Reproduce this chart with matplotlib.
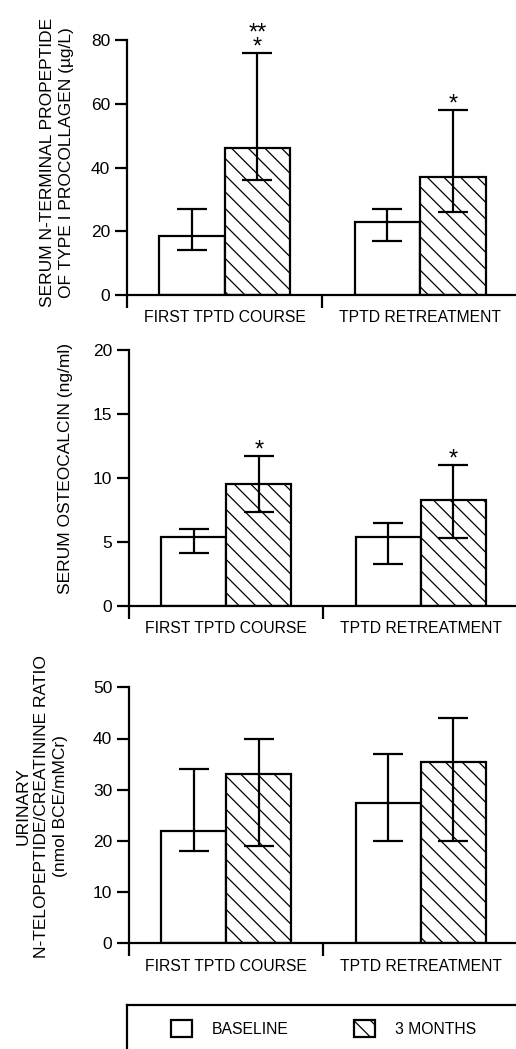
import numpy as np
import matplotlib
matplotlib.use("Agg")
import matplotlib.pyplot as plt

# ---- data ----
categories = ["FIRST TPTD COURSE", "TPTD RETREATMENT"]

# serum P1NP (ug/L)
p1np_base = [18.5, 23.0]
p1np_base_lo = [14.0, 17.0]
p1np_base_hi = [27.0, 27.0]
p1np_3m = [46.0, 37.0]
p1np_3m_lo = [36.0, 26.0]
p1np_3m_hi = [76.0, 58.0]
p1np_stars = ["**\n*", "*"]

# serum osteocalcin (ng/ml)
oc_base = [5.4, 5.4]
oc_base_lo = [4.1, 3.3]
oc_base_hi = [6.0, 6.5]
oc_3m = [9.5, 8.3]
oc_3m_lo = [7.3, 5.3]
oc_3m_hi = [11.7, 11.0]
oc_stars = ["*", "*"]

# urinary NTX/creatinine (nmol BCE/mMCr)
ntx_base = [22.0, 27.5]
ntx_base_lo = [18.0, 20.0]
ntx_base_hi = [34.0, 37.0]
ntx_3m = [33.0, 35.5]
ntx_3m_lo = [19.0, 20.0]
ntx_3m_hi = [40.0, 44.0]
ntx_stars = ["", ""]

p1np_ticks = [0, 20, 40, 60, 80]
oc_ticks = [0, 5, 10, 15, 20]
ntx_ticks = [0, 10, 20, 30, 40, 50]

series_labels = ["BASELINE", "3 MONTHS"]

plt.rcParams["font.family"] = ["Liberation Sans", "DejaVu Sans"]
plt.rcParams["hatch.linewidth"] = 0.9
plt.rcParams["hatch.color"] = "black"

W = 0.335  # bar width


def draw_panel(ax, base, base_lo, base_hi, m3, m3_lo, m3_hi, stars, ticks, ylabel, lab_xy):
    x = np.arange(len(categories))
    b1 = ax.bar(x - W / 2, base, W, facecolor="white", edgecolor="black", linewidth=1.6,
                label=series_labels[0])
    b2 = ax.bar(x + W / 2, m3, W, facecolor="white", edgecolor="black", linewidth=1.6,
                hatch="\\\\", label=series_labels[1])

    base = np.array(base)
    m3 = np.array(m3)
    ax.errorbar(x - W / 2, base, yerr=[base - np.array(base_lo), np.array(base_hi) - base],
                fmt="none", ecolor="black", elinewidth=1.6, capsize=11, capthick=1.6)
    ax.errorbar(x + W / 2, m3, yerr=[m3 - np.array(m3_lo), np.array(m3_hi) - m3],
                fmt="none", ecolor="black", elinewidth=1.6, capsize=11, capthick=1.6)

    # significance marks
    for xi, top, s in zip(x + W / 2, m3_hi, stars):
        if s:
            ax.annotate(s, xy=(xi, top), xytext=(0, -4), textcoords="offset points",
                        ha="center", va="bottom", fontsize=17, linespacing=0.5)

    ax.set_xlim(-0.5, 1.49)
    ax.set_ylim(ticks[0], ticks[-1])
    ax.set_yticks(ticks)
    ax.tick_params(axis="y", length=9, width=1.6, labelsize=12.5, pad=3)

    # group dividers as major ticks, names on minor ticks
    ax.set_xticks([-0.5, 0.5])
    ax.set_xticklabels(["", ""])
    ax.set_xticks(x, minor=True)
    ax.set_xticklabels(categories, minor=True, fontsize=11.3)
    ax.tick_params(axis="x", which="major", length=9, width=1.6, direction="out")
    ax.tick_params(axis="x", which="minor", length=0, pad=11)

    for side in ["top", "right"]:
        ax.spines[side].set_visible(False)
    for side in ["left", "bottom"]:
        ax.spines[side].set_linewidth(1.6)

    ax.set_ylabel(ylabel, fontsize=12.5, va="center", ha="center", linespacing=1.3)
    ax.yaxis.set_label_coords(*lab_xy)
    return b1, b2


def main():
    fig = plt.figure(figsize=(5.16, 10.49), dpi=100)
    H = 1049.0
    Wd = 516.0

    ax1 = fig.add_axes([127 / Wd, 1 - 295 / H, 1 - 127 / Wd, 255 / H])
    ax2 = fig.add_axes([129 / Wd, 1 - 606 / H, 1 - 129 / Wd, 256.3 / H])
    ax3 = fig.add_axes([129 / Wd, 1 - 943.3 / H, 1 - 129 / Wd, 256 / H])

    handles = draw_panel(ax1, p1np_base, p1np_base_lo, p1np_base_hi, p1np_3m, p1np_3m_lo,
                         p1np_3m_hi, p1np_stars, p1np_ticks,
                         "SERUM N-TERMINAL PROPEPTIDE\nOF TYPE I PROCOLLAGEN (\u00b5g/L)",
                         (-0.18, 0.52))
    draw_panel(ax2, oc_base, oc_base_lo, oc_base_hi, oc_3m, oc_3m_lo, oc_3m_hi, oc_stars,
               oc_ticks, "SERUM OSTEOCALCIN (ng/ml)", (-0.165, 0.535))
    draw_panel(ax3, ntx_base, ntx_base_lo, ntx_base_hi, ntx_3m, ntx_3m_lo, ntx_3m_hi,
               ntx_stars, ntx_ticks,
               "URINARY\nN-TELOPEPTIDE/CREATININE RATIO\n(nmol BCE/mMCr)", (-0.225, 0.536))

    # legend frame: only top and left edges visible
    lax = fig.add_axes([127 / Wd, 0, 1 - 127 / Wd, 1 - 1005 / H])
    lax.set_xticks([])
    lax.set_yticks([])
    for side in ["bottom", "right"]:
        lax.spines[side].set_visible(False)
    for side in ["top", "left"]:
        lax.spines[side].set_linewidth(1.6)

    fig.legend(handles, series_labels, loc="center left", bbox_to_anchor=(170.7 / Wd, 1 - 1028.5 / H),
               ncol=2, frameon=False, fontsize=11.3, handlelength=1.35, handleheight=1.35,
               handletextpad=1.25, columnspacing=4.2, borderpad=0, borderaxespad=0)

    fig.savefig("out.png", dpi=100)


if __name__ == "__main__":
    main()
